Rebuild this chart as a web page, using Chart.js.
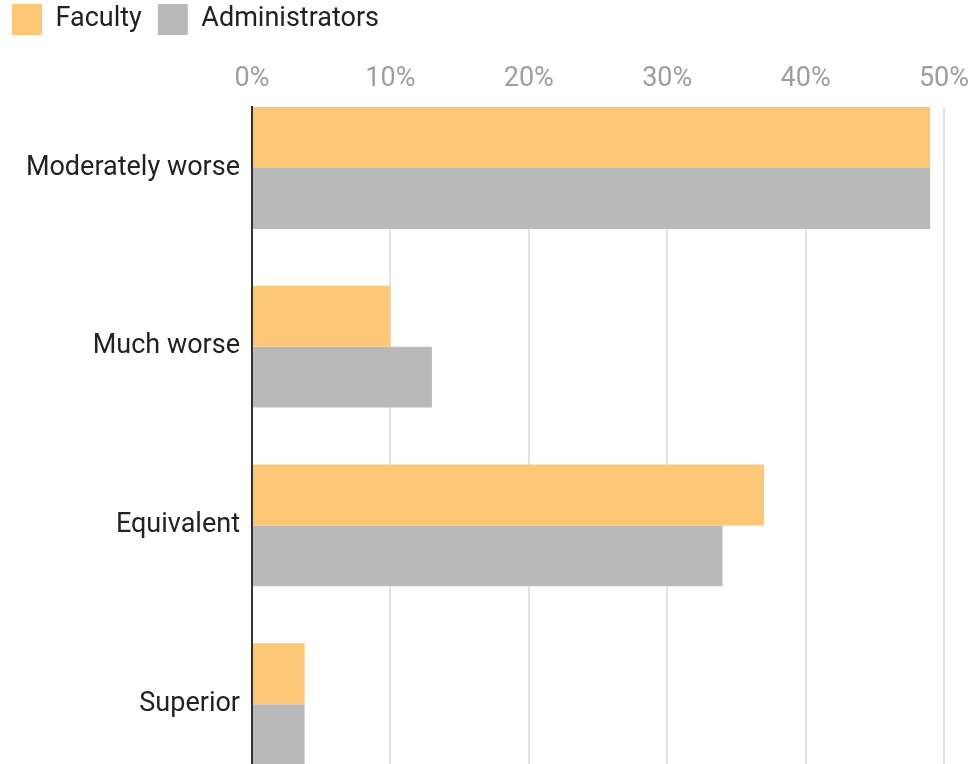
<!DOCTYPE html>
<html>
<head>
<meta charset="utf-8">
<script src="https://cdn.jsdelivr.net/npm/chart.js@4"></script>
<style>
  html, body { margin: 0; padding: 0; background: #fff; overflow: hidden; }
  #wrap { width: 972px; height: 764px; position: relative; }
</style>
</head>
<body>
<div id="wrap"><canvas id="chart"></canvas></div>
<script>
// data
const categories = ['Moderately worse', 'Much worse', 'Equivalent', 'Superior'];
const faculty = [49, 10, 37, 3.8];
const administrators = [49, 13, 34, 3.8];
const xTicks = [0, 10, 20, 30, 40, 50];

// bars sit on a linear index axis so the first group can touch the top of the plot
const toPoints = vals => vals.map((v, i) => ({ x: v, y: i }));

const ctx = document.getElementById('chart').getContext('2d');
new Chart(ctx, {
    type: 'bar',
    data: {
        datasets: [{
            label: 'Faculty',
            data: toPoints(faculty),
            backgroundColor: '#fcc776',
            categoryPercentage: 0.682,
            barPercentage: 1
        }, {
            label: 'Administrators',
            data: toPoints(administrators),
            backgroundColor: '#b9b9b9',
            categoryPercentage: 0.682,
            barPercentage: 1
        }]
    },
    options: {
        indexAxis: 'y',
        responsive: true,
        maintainAspectRatio: false,
        animation: false,
        layout: { padding: { left: -4, top: -12, right: 0, bottom: 0 } },
        plugins: {
            legend: {
                position: 'top',
                align: 'start',
                labels: {
                    boxWidth: 30,
                    boxHeight: 31,
                    padding: 16,
                    color: '#222',
                    font: { family: 'Roboto', size: 27 }
                }
            },
            tooltip: { enabled: false }
        },
        scales: {
            x: {
                position: 'top',
                min: 0,
                max: 50,
                afterBuildTicks: s => { s.ticks = xTicks.map(v => ({ value: v })); },
                afterFit: s => { s.height = 62; s.paddingLeft = 0; s.paddingRight = 28; },
                ticks: {
                    color: '#9e9e9e',
                    padding: 12,
                    font: { family: 'Roboto', size: 27 },
                    callback: v => v + '%'
                },
                grid: { color: '#e2e2e2', lineWidth: 2, drawTicks: false },
                border: { display: false }
            },
            y: {
                type: 'linear',
                reverse: true,
                offset: false,
                min: -0.341,
                max: 3.335,
                afterBuildTicks: s => { s.ticks = categories.map((c, i) => ({ value: i })); },
                afterFit: s => { s.width = 256; s.paddingTop = 0; s.paddingBottom = 0; },
                ticks: {
                    color: '#222',
                    padding: 4,
                    font: { family: 'Roboto', size: 27 },
                    callback: v => categories[v]
                },
                grid: { display: false },
                border: { display: true, color: '#333', width: 2 }
            }
        }
    }
});
</script>
</body>
</html>
